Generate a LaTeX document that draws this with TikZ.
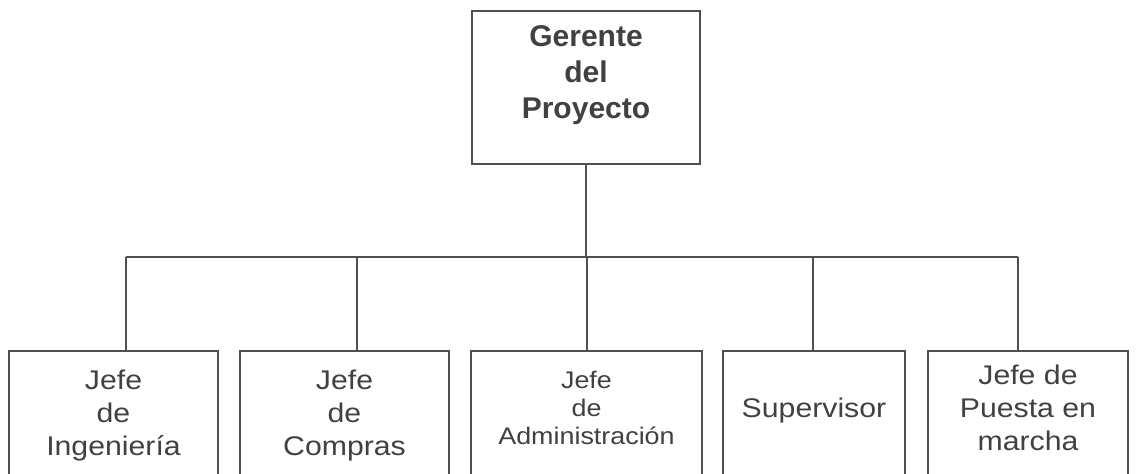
\documentclass[tikz,border=0pt]{standalone}
\usepackage{fontspec}
\setmainfont{Liberation Sans}
\newfontfamily\ancha[FakeStretch=1.12]{Liberation Sans}
\usepackage{tikz}
\usetikzlibrary{positioning}
\definecolor{mgris}{RGB}{80,80,80}
\definecolor{mtexto}{RGB}{65,65,65}
\tikzset{caja/.style = {draw=mgris, line width=1.1pt, text=mtexto, align=center,
                        minimum height=64.5pt, font=\ancha\fontsize{13.5}{16.5}\selectfont},
         linea/.style = {draw=mgris, line width=1.1pt}}

\begin{document}
\begin{tikzpicture}[x=0.5pt, y=-0.5pt]
      \useasboundingbox (0,0) rectangle (1136,473);
      \fill [white] (0,0) rectangle (1136,473);

      \node [caja, minimum width=114pt, minimum height=76.5pt, text depth=15pt,
             font=\bfseries\fontsize{15}{18}\selectfont] (gerente) at (586,87.5) {Gerente\\del\\Proyecto};

      \node [caja, minimum width=104.5pt] (ing) at (113.5,415.5) {Jefe\\de\\Ingeniería};
      \node [caja, minimum width=104.5pt] (com) at (344.5,415.5) {Jefe\\de\\Compras};
      \node [caja, minimum width=115.5pt, text depth=8pt,
             font=\ancha\fontsize{12}{14}\selectfont] (adm) at (586.5,415.5) {Jefe\\de\\Administración};
      \node [caja, minimum width=91pt, text depth=7.3pt] (sup) at (814,415.5) {Supervisor};
      \node [caja, minimum width=100pt, text depth=7.5pt] (pue) at (1028,415.5) {Jefe de\\Puesta en\\marcha};

      \coordinate (izq) at (126,257);
      \coordinate (der) at (1018,257);
      \draw [linea] (izq) -- (der);
      \draw [linea] (gerente) -- (gerente |- izq);
      \foreach \n/\x in {ing/126, com/357, adm/587, sup/813, pue/1018}
        \draw [linea] (\x,257) -- (\x,257 |- \n.north);
\end{tikzpicture}
\end{document}
